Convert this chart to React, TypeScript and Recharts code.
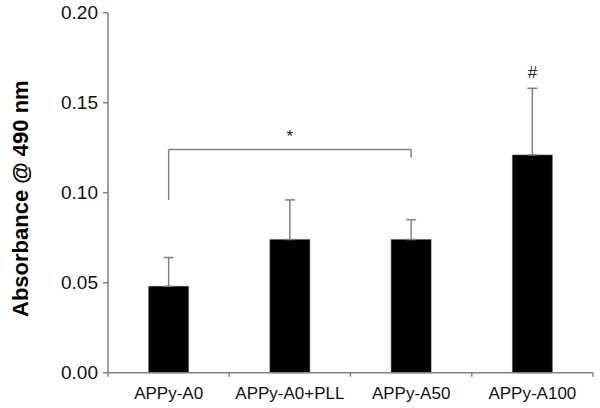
import { BarChart, Bar, XAxis, YAxis, ErrorBar, ReferenceLine, ReferenceDot } from "recharts"

const groups = ["APPy-A0", "APPy-A0+PLL", "APPy-A50", "APPy-A100"]
const absorbance = [0.048, 0.074, 0.074, 0.121]
const sdUp = [0.016, 0.022, 0.011, 0.037]
const yTicks = [0, 0.05, 0.1, 0.15, 0.2]

const data = groups.map((g, i) => ({
  name: g,
  value: absorbance[i],
  err: [0, sdUp[i]],
}))

const font = "'Liberation Sans', Arial, sans-serif"
const grey = "#808080"

// Excel style: category label in the middle, tick marks on the band edges
function CategoryTick(props: any) {
  const { x, y, payload, index } = props
  const half = payload?.offset ?? 60.6
  return (
    <g>
      <line x1={x - half} y1={y - 8} x2={x - half} y2={y - 4} stroke={grey} strokeWidth={1.5} />
      {index === groups.length - 1 && (
        <line x1={x + half} y1={y - 8} x2={x + half} y2={y - 4} stroke={grey} strokeWidth={1.5} />
      )}
      <text x={x} y={y + 18} textAnchor="middle" fontSize={17} fill="#111" fontFamily={font}>
        {payload.value}
      </text>
    </g>
  )
}

function YTitle(props: any) {
  const vb = props.viewBox || { x: 0, y: 12.7, height: 360 }
  const cx = vb.x + 28
  const cy = vb.y + vb.height / 2 + 6
  return (
    <text
      x={cx}
      y={cy}
      transform={`rotate(-90, ${cx}, ${cy})`}
      textAnchor="middle"
      fontSize={22}
      fontWeight="bold"
      fill="#000"
      fontFamily={font}
    >
      Absorbance @ 490 nm
    </text>
  )
}

export default function App() {
  return (
    <div style={{ position: "fixed", left: 0, top: 0, background: "#fff" }}>
      <BarChart
        width={600}
        height={408}
        data={data}
        margin={{ top: 12.7, right: 7, bottom: 0, left: 0 }}
        barCategoryGap="33.5%"
      >
        <XAxis
          dataKey="name"
          height={35.3}
          stroke={grey}
          strokeWidth={1.5}
          tickLine={false}
          tick={<CategoryTick />}
          interval={0}
        />
        <YAxis
          width={108}
          domain={[0, 0.2]}
          ticks={yTicks}
          tickFormatter={(v: number) => v.toFixed(2)}
          stroke={grey}
          strokeWidth={1.5}
          tickSize={5}
          tickMargin={5}
          tick={{ fontSize: 19, fill: "#111", fontFamily: font }}
          label={<YTitle />}
        />
        <Bar dataKey="value" fill="#000" stroke="#555" strokeWidth={0.5} isAnimationActive={false}>
          <ErrorBar dataKey="err" direction="y" width={5} stroke={grey} strokeWidth={1.5} />
        </Bar>
        <ReferenceLine
          segment={[{ x: "APPy-A0", y: 0.096 }, { x: "APPy-A0", y: 0.124 }]}
          stroke={grey}
          strokeWidth={1.5}
        />
        <ReferenceLine
          segment={[{ x: "APPy-A0", y: 0.124 }, { x: "APPy-A50", y: 0.124 }]}
          stroke={grey}
          strokeWidth={1.5}
        />
        <ReferenceLine
          segment={[{ x: "APPy-A50", y: 0.1195 }, { x: "APPy-A50", y: 0.124 }]}
          stroke={grey}
          strokeWidth={1.5}
        />
        <ReferenceDot
          x="APPy-A0+PLL"
          y={0.1337}
          r={0}
          fill="none"
          stroke="none"
          label={{ value: "*", position: "center", dy: 4, fontSize: 17, fill: "#222", fontFamily: font }}
        />
        <ReferenceDot
          x="APPy-A100"
          y={0.167}
          r={0}
          fill="none"
          stroke="none"
          label={{ value: "#", position: "center", fontSize: 17, fill: "#222", fontFamily: font }}
        />
      </BarChart>
    </div>
  )
}
